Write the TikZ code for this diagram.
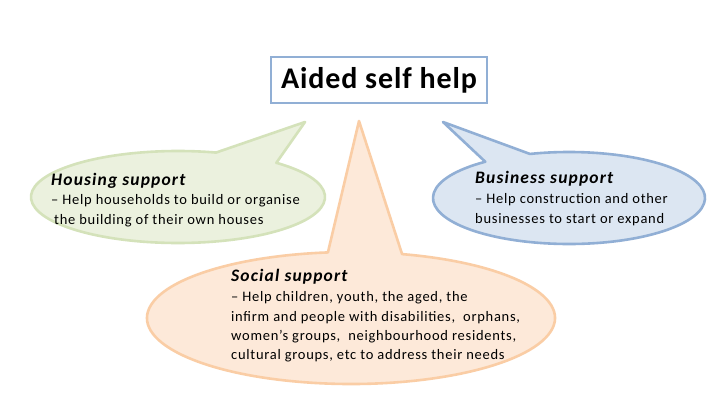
\documentclass[tikz,border=0pt]{standalone}
\usepackage{fontspec}
\usetikzlibrary{calc}
\setmainfont{Carlito}
\newfontfamily\spacedA[LetterSpace=5]{Carlito}
\newfontfamily\spacedB[LetterSpace=6.6]{Carlito}
\newfontfamily\spacedC[LetterSpace=3]{Carlito}
\definecolor{gfill}{RGB}{235,241,222}
\definecolor{gline}{RGB}{212,226,186}
\definecolor{bfill}{RGB}{220,230,242}
\definecolor{bline}{RGB}{145,175,213}
\definecolor{ofill}{RGB}{253,233,217}
\definecolor{oline}{RGB}{250,205,165}
\tikzset{
  callout/.style={line width=2.6pt, line join=round},
  head/.style={anchor=base west, inner sep=0pt, font=\spacedB\fontsize{17.5}{20}\selectfont\bfseries\itshape},
  body/.style={anchor=north west, inner sep=0pt, align=left, font=\spacedA\fontsize{14.5}{19.3}\selectfont},
}
\begin{document}
\begin{tikzpicture}[x=1pt,y=1pt]
\useasboundingbox (0,0) rectangle (720,405);
\fill[white] (0,0) rectangle (720,405);
% green callout
\coordinate (gtip) at (305,283);
\draw[callout, draw=gline, fill=gfill] (gtip) -- ($(178,208)+(48:147 and 46)$) arc[start angle=48, end angle=-285, x radius=147, y radius=46] -- cycle;
% blue callout
\coordinate (btip) at (443,283);
\draw[callout, draw=bline, fill=bfill] (btip) -- ($(569,207)+(128:136 and 46)$) arc[start angle=128, end angle=466.7, x radius=136, y radius=46] -- cycle;
% orange callout
\coordinate (otip) at (359,284);
\draw[callout, draw=oline, fill=ofill] (otip) -- ($(351,87)+(75.5:204 and 66)$) arc[start angle=75.5, end angle=-263.5, x radius=204, y radius=66] -- cycle;
% title
\node[draw=bline, line width=2.6pt, fill=white, minimum width=216pt, minimum height=46pt, inner sep=0pt, font=\spacedC\fontsize{30}{32}\selectfont\bfseries] (title) at (379,325) {Aided self help};
% texts
\node[head] (hh) at (51,220) {Housing support};
\node[body] (hb) at (51,210.4) {– Help households to build or organise\\\hspace{3pt}the building of their own houses};
\node[head] (bh) at (475,222) {Business support};
\node[body] (bb) at (475,211.4) {– Help construction and other\\businesses to start or expand};
\node[head] (sh) at (231,123.3) {Social support};
\node[body] (sb) at (231,113.5) {– Help children, youth, the aged, the\\infirm and people with disabilities,\ \ orphans,\\women’s groups,\ \ neighbourhood residents,\\cultural groups, etc to address their needs};
\end{tikzpicture}
\end{document}
